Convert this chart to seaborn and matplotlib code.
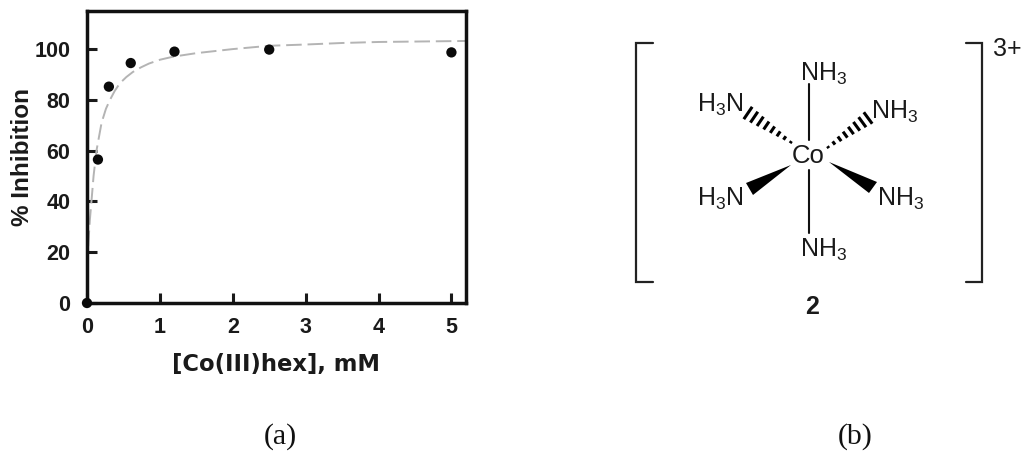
import matplotlib
matplotlib.use('Agg')
import matplotlib.pyplot as plt
import pandas as pd
import seaborn as sns

# measured points
conc = [0, 0.15, 0.3, 0.6, 1.2, 2.5, 5]
inhibition = [0, 56.5, 85.2, 94.5, 99, 99.8, 98.7]

# dashed fit
fit_x = [0.0, 0.02, 0.04, 0.064, 0.09, 0.13, 0.2, 0.26, 0.315, 0.38, 0.45, 0.54, 0.63, 0.74, 0.85, 1.0, 1.18, 1.5, 2.0, 2.5, 3.0, 3.5, 4.0, 5.2]
fit_y = [14, 24, 33, 41, 50, 60, 71, 76.5, 80, 83.5, 86.5, 89, 91, 92.8, 94.3, 95.8, 97, 98.4, 100, 101.3, 101.8, 102.4, 102.8, 103.2]

x_ticks = [0, 1, 2, 3, 4, 5]
y_ticks = [0, 20, 40, 60, 80, 100]

# ligand labels of the complex: text, x, y in pixels
ligands = [
    ('NH$_3$', 824, 74),
    ('H$_3$N', 720, 105),
    ('NH$_3$', 895, 112),
    ('H$_3$N', 720, 199),
    ('NH$_3$', 901, 199),
    ('NH$_3$', 824, 250),
]
solid_wedges = [
    [(791, 165), (746, 183), (753, 195)],
    [(829, 162), (877, 182), (869, 193)],
]
# hashed wedges: tip and wide end
hash_wedges = [
    ((792, 143), (748, 113)),
    ((827, 148), (868, 118)),
]
axial_bonds = [((809, 84), (809, 140)), ((809, 170), (809, 233))]
brackets = [
    ([653, 636, 636, 653], [43, 43, 282, 282]),
    ([966, 982, 982, 966], [43, 43, 282, 282]),
]

sns.set_style('ticks')
plt.rcParams['font.family'] = ['Liberation Sans', 'DejaVu Sans']
plt.rcParams['mathtext.fontset'] = 'custom'
plt.rcParams['mathtext.rm'] = 'Liberation Sans'

fig = plt.figure(figsize=(10.24, 4.58), dpi=100)
ax = fig.add_axes([87 / 1024, 1 - 303 / 458, (466 - 87) / 1024, (303 - 11) / 458])

fit = pd.DataFrame({'x': fit_x, 'y': fit_y})
pts = pd.DataFrame({'x': conc, 'y': inhibition})
sns.lineplot(data=fit, x='x', y='y', ax=ax, color='#b4b4b4', lw=1.4, sort=False,
             estimator=None, linestyle=(0, (8, 3)), zorder=2)
sns.scatterplot(data=pts, x='x', y='y', ax=ax, color='#0a0a0a', s=55, edgecolor='none',
                clip_on=False, zorder=5)

ax.set_xlim(0, 5.2)
ax.set_ylim(0, 115)
ax.set_xticks(x_ticks)
ax.set_yticks(y_ticks)
ax.tick_params(direction='in', length=7, width=2.2, labelsize=15.5, colors='#1a1a1a')
ax.tick_params(axis='x', pad=10)
ax.tick_params(axis='y', pad=12)
for lab in ax.get_xticklabels() + ax.get_yticklabels():
    lab.set_fontweight('bold')
for s in ax.spines.values():
    s.set_linewidth(2.5)
    s.set_color('#111111')
ax.set_xlabel('[Co(III)hex], mM', fontsize=16.3, fontweight='bold', family='DejaVu Sans',
              color='#1a1a1a', labelpad=11)
ax.set_ylabel('% Inhibition', fontsize=17.5, fontweight='bold', color='#1a1a1a', labelpad=0)

# overlay in pixel coordinates for the structure and captions
ov = fig.add_axes([0, 0, 1, 1])
ov.set_xlim(0, 1024)
ov.set_ylim(458, 0)
ov.axis('off')
ov.patch.set_alpha(0)

for xs, ys in brackets:
    ov.plot(xs, ys, color='#222222', lw=1.6, solid_joinstyle='miter')
for (x0, y0), (x1, y1) in axial_bonds:
    ov.plot([x0, x1], [y0, y1], color='#111111', lw=1.5)
for tri in solid_wedges:
    ov.fill([p[0] for p in tri], [p[1] for p in tri], color='black', lw=0)
for (tx, ty), (ex, ey) in hash_wedges:
    # perpendicular strokes that widen toward the ligand
    dx, dy = ex - tx, ey - ty
    n = 8
    for i in range(n):
        f = (i + 0.2) / (n - 0.8)
        cx, cy = tx + dx * f, ty + dy * f
        half = 0.02 + 0.12 * f
        ov.plot([cx - dy * half, cx + dy * half],
                [cy + dx * half, cy - dx * half],
                color='black', lw=2.2, solid_capstyle='butt')

for label, x, y in ligands:
    ov.text(x, y, label, fontsize=18, ha='center', va='center', color='#1a1a1a')
ov.text(808, 156, 'Co', fontsize=18.5, ha='center', va='center', color='#1a1a1a')
ov.text(1007, 49, '3+', fontsize=18, ha='center', va='center', color='#1a1a1a')
ov.text(812, 307, '2', fontsize=18, fontweight='bold', ha='center', va='center', color='#1a1a1a')

ov.text(280, 437, '(a)', fontsize=21.5, family='Liberation Serif', ha='center', va='center', color='#111111')
ov.text(855, 437, '(b)', fontsize=21.5, family='Liberation Serif', ha='center', va='center', color='#111111')

fig.savefig('out.png', dpi=100)
